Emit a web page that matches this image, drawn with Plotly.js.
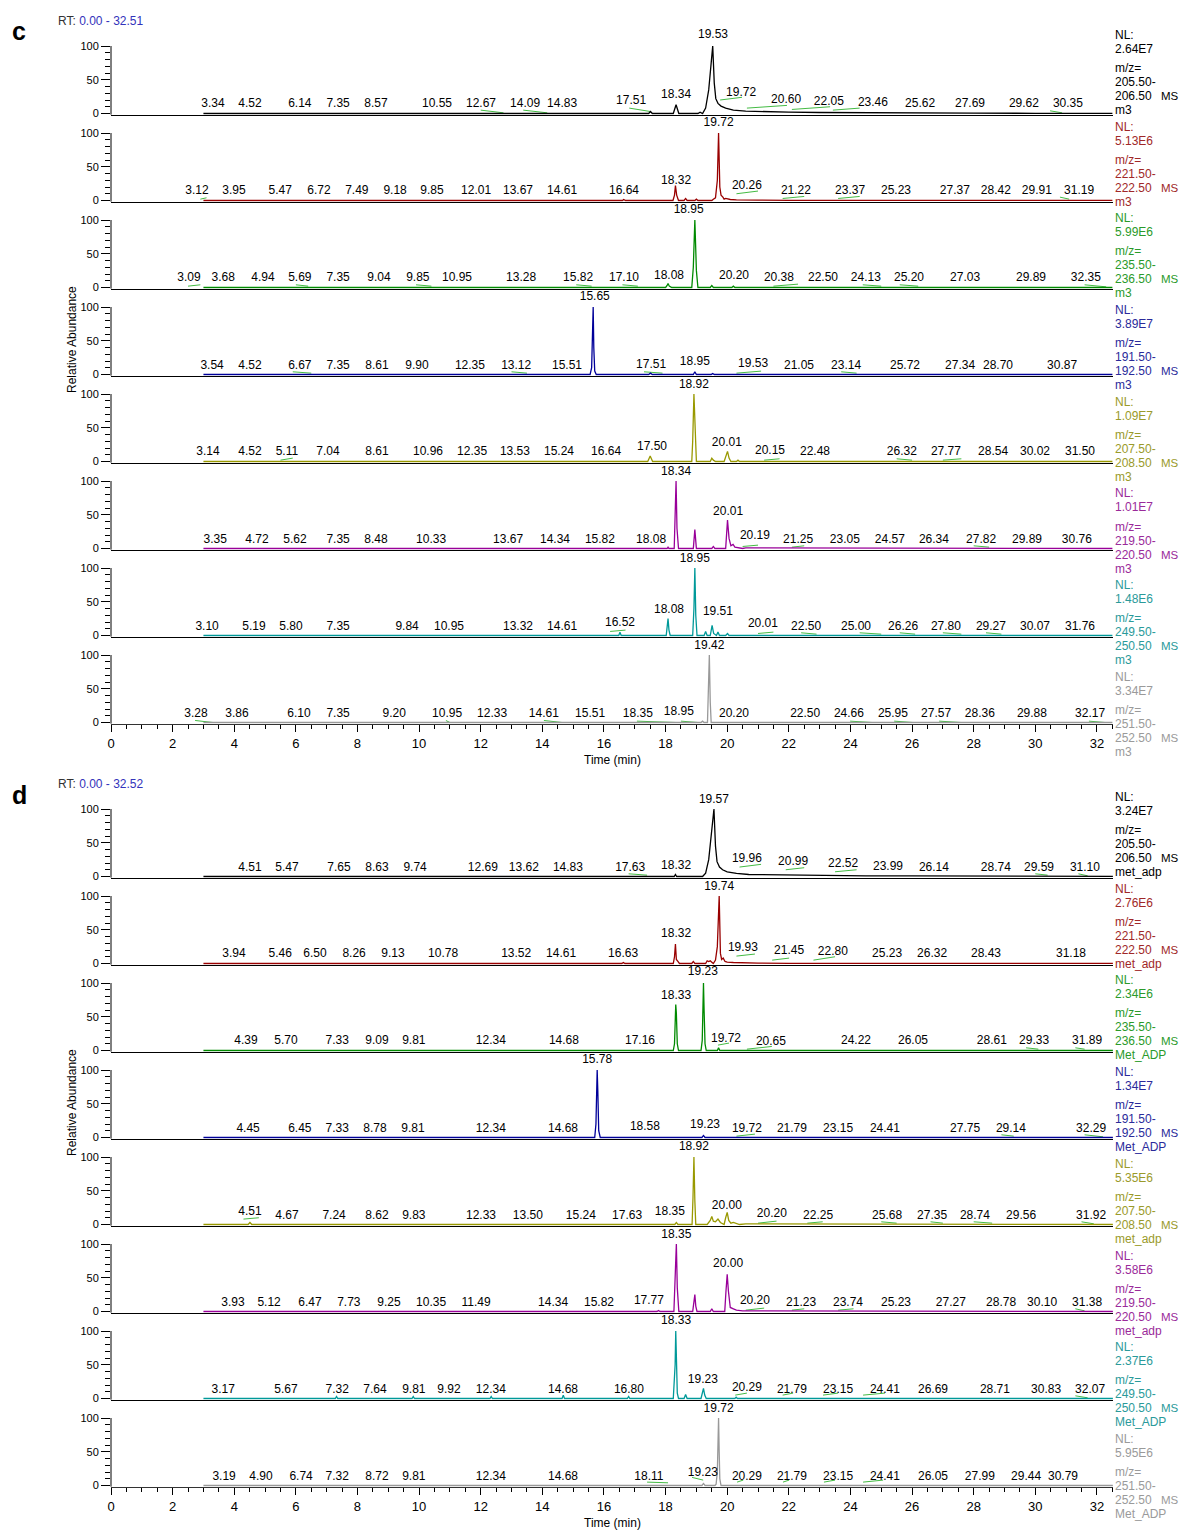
<!DOCTYPE html>
<html><head><meta charset="utf-8">
<script src="https://cdn.plot.ly/plotly-3.0.1.min.js"></script>
<style>body{margin:0;background:#fff}#chart{width:1179px;height:1530px}</style>
</head><body><div id="chart"></div>
<script>
// ---------- metadata ----------
const rtRangeC = [0.00, 32.51];
const rtRangeD = [0.00, 32.52];
const nlC = ['2.64E7','5.13E6','5.99E6','3.89E7','1.09E7','1.01E7','1.48E6','3.34E7'];
const nlD = ['3.24E7','2.76E6','2.34E6','1.34E7','5.35E6','3.58E6','2.37E6','5.95E6'];
const mzLo = ['205.50-','221.50-','235.50-','191.50-','207.50-','219.50-','249.50-','251.50-'];
const mzHi = ['206.50','222.50','236.50','192.50','208.50','220.50','250.50','252.50'];
const fileC = ['m3','m3','m3','m3','m3','m3','m3','m3'];
const fileD = ['met_adp','met_adp','Met_ADP','Met_ADP','met_adp','met_adp','Met_ADP','Met_ADP'];

// ---------- panel c traces ----------
const c1X = [3.0,17.45,17.51,17.57,18.25,18.34,18.43,19.05,19.12,19.2,19.3,19.4,19.48,19.53,19.58,19.63,19.7,19.8,19.95,20.2,20.6,21.2,22,23,24.5,26,28,30,32.51];
const c1Y = [0,0,3,0,0,13,0,0,2,0,8,35,75,100,45,22,15,11,8,5,3.5,2.5,2,1.5,1,0.8,0.5,0.3,0.2];
const c1LT = ['3.34','4.52','6.14','7.35','8.57','10.55','12.67','14.09','14.83','17.51','18.34','19.53','19.72','20.60','22.05','23.46','25.62','27.69','29.62','30.35'];
const c1LX = [3.31,4.51,6.13,7.37,8.60,10.58,12.01,13.44,14.64,16.88,18.34,19.54,20.45,21.91,23.30,24.73,26.26,27.88,29.63,31.06];
const c1LY = [14,14,14,14,14,14,14,14,14,18,27,116,30,20,17,15,14,14,14,14];
const c1Green = [[12.0,5,12.74,1],[13.38,5,14.16,1],[16.82,8,17.5,3],[19.77,20,20.48,24],[20.64,8,21.94,12],[22.1,6,23.34,10],[23.43,5,24.3,8],[30.48,4,30.87,1]];

const c2X = [3.0,16.6,16.64,16.7,18.24,18.29,18.32,18.36,18.42,18.6,18.65,18.7,18.95,19.0,19.05,19.5,19.55,19.62,19.68,19.72,19.76,19.8,19.86,19.9,19.95,20.1,20.3,20.6,21,22,25,32.51];
const c2Y = [0,0,1.5,0,0,8,22,8,0,0,3,0,0,2,0,0,2,4,30,100,20,8,5,2,3,1.5,1,0.5,0.5,0.3,0.2,0.2];
const c2LT = ['3.12','3.95','5.47','6.72','7.49','9.18','9.85','12.01','13.67','14.61','16.64','18.32','19.72','20.26','21.22','23.37','25.23','27.37','28.42','29.91','31.19'];
const c2LX = [2.79,3.99,5.49,6.75,7.98,9.22,10.42,11.85,13.21,14.64,16.65,18.34,19.72,20.64,22.23,23.99,25.48,27.39,28.72,30.05,31.42];
const c2LY = [14,14,14,14,14,14,14,14,14,14,14,29,115,21,14,14,14,14,14,14,14];
const c2Green = [[2.9,2,3.1,4],[20.3,10,21.0,14],[21.8,3,22.5,6],[23.6,3,24.3,6],[30.8,5,31.1,2]];

const c3X = [3.0,18.0,18.05,18.08,18.12,18.2,18.85,18.9,18.95,19.0,19.05,19.45,19.5,19.55,20.15,20.2,20.25,32.51];
const c3Y = [0,0,3,6,2,0,0,30,100,25,0,0,3,0,0,2,0,0];
const c3LT = ['3.09','3.68','4.94','5.69','7.35','9.04','9.85','10.95','13.28','15.82','17.10','18.08','18.95','20.20','20.38','22.50','24.13','25.20','27.03','29.89','32.35'];
const c3LX = [2.53,3.64,4.93,6.13,7.37,8.70,9.96,11.23,13.31,15.16,16.65,18.11,18.75,20.22,21.68,23.11,24.50,25.90,27.72,29.86,31.64];
const c3LY = [14,14,14,14,14,14,14,14,14,14,14,17,115,17,14,14,14,14,14,14,14];
const c3Green = [[2.5,2,2.9,4],[6.0,4,6.4,2],[9.9,4,10.4,2],[15.1,4,15.6,2],[16.6,4,17.1,2],[21.5,2,22.3,5],[24.4,4,25.0,2],[25.6,4,26.2,2],[31.6,4,32.3,1]];

const c4X = [3.0,15.55,15.6,15.62,15.64,15.65,15.67,15.7,15.75,17.45,17.51,17.57,18.9,18.95,19.0,19.48,19.53,19.58,32.51];
const c4Y = [0,0,10,50,55,100,40,5,0,0,2,0,0,4,0,0,1.5,0,0];
const c4LT = ['3.54','4.52','6.67','7.35','8.61','9.90','12.35','13.12','15.51','15.65','17.51','18.95','19.53','21.05','23.14','25.72','27.34','28.70','30.87'];
const c4LX = [3.28,4.51,6.13,7.37,8.63,9.93,11.65,13.15,14.80,15.70,17.53,18.95,20.84,22.33,23.86,25.77,27.56,28.79,30.87];
const c4LY = [13,13,13,13,13,13,13,13,13,115,14,18,15,13,13,13,13,13,13];
const c4Green = [[5.9,4,6.5,2],[13.0,4,13.5,2],[17.3,4,17.9,2],[20.3,2,21.1,5],[23.7,4,24.2,2]];

const c5X = [3.0,17.42,17.5,17.58,18.85,18.88,18.92,18.96,19.0,19.45,19.5,19.55,19.62,19.9,19.97,20.01,20.06,20.12,20.3,20.35,20.4,32.51];
const c5Y = [0,0,8,0,0,30,100,30,0,0,5,2,0,0,8,15,5,0,0,2,0,0];
const c5LT = ['3.14','4.52','5.11','7.04','8.61','10.96','12.35','13.53','15.24','16.64','17.50','18.92','20.01','20.15','22.48','26.32','27.77','28.54','30.02','31.50'];
const c5LX = [3.15,4.51,5.71,7.04,8.63,10.29,11.72,13.11,14.54,16.07,17.56,18.92,19.99,21.39,22.85,25.67,27.10,28.63,29.99,31.45];
const c5LY = [14,14,14,14,14,14,14,14,14,14,21,114,27,15,14,14,14,14,14,14];
const c5Green = [[5.5,2,5.9,5],[21.2,2,21.7,4],[25.5,4,26.0,2],[27.0,2,27.6,4]];

const c6X = [3.0,18.05,18.08,18.11,18.28,18.31,18.34,18.37,18.42,18.9,18.95,19.0,19.5,19.55,19.6,19.95,20.01,20.06,20.12,20.19,20.25,20.5,20.6,32.51];
const c6Y = [0,0,2,0,0,40,100,30,0,0,28,0,0,3,0,0,42,15,4,6,2,0,1,0];
const c6LT = ['3.35','4.72','5.62','7.35','8.48','10.33','13.67','14.34','15.82','18.08','18.34','20.01','20.19','21.25','23.05','24.57','26.34','27.82','29.89','30.76'];
const c6LX = [3.38,4.74,5.97,7.37,8.60,10.39,12.89,14.41,15.87,17.53,18.34,20.03,20.90,22.30,23.82,25.28,26.71,28.24,29.73,31.35];
const c6LY = [13,13,13,13,13,13,13,13,13,13,114,54,18,13,13,13,13,13,13,13];
const c6Green = [[20.5,3,21.0,5],[22.1,2,22.5,4],[28.0,4,28.5,2]];

const c7X = [3.0,16.48,16.52,16.56,18.02,18.05,18.08,18.11,18.15,18.88,18.92,18.95,18.98,19.02,19.25,19.3,19.35,19.45,19.51,19.56,19.65,19.7,19.75,19.95,20.01,20.06,32.51];
const c7Y = [0,0,5,0,0,12,25,8,0,0,40,100,30,0,0,6,0,0,15,3,0,5,0,0,3,0,0];
const c7LT = ['3.10','5.19','5.80','7.35','9.84','10.95','13.32','14.61','16.52','18.08','18.95','19.51','20.01','22.50','25.00','26.26','27.80','29.27','30.07','31.76'];
const c7LX = [3.12,4.64,5.84,7.37,9.61,10.97,13.21,14.64,16.52,18.11,18.95,19.70,21.16,22.56,24.18,25.71,27.10,28.56,29.99,31.45];
const c7LY = [13,13,13,13,13,13,13,13,19,38,114,35,17,13,13,13,13,13,13,13];
const c7Green = [[16.2,6,16.7,8],[21.0,3,21.5,5],[22.4,4,22.9,2],[24.3,4,25.0,2],[25.6,4,26.1,2],[27.0,4,27.6,2],[28.4,4,28.9,2]];

const c8X = [3.0,19.15,19.2,19.25,19.36,19.39,19.42,19.45,19.48,32.51];
const c8Y = [0,0,2,0,0,40,100,30,0,0];
const c8LT = ['3.28','3.86','6.10','7.35','9.20','10.95','12.33','14.61','15.51','18.35','18.95','19.42','20.20','22.50','24.66','25.95','27.57','28.36','29.88','32.17'];
const c8LX = [2.76,4.09,6.10,7.37,9.19,10.91,12.37,14.05,15.55,17.10,18.43,19.42,20.22,22.53,23.95,25.38,26.78,28.20,29.89,31.78];
const c8LY = [13,13,13,13,13,13,13,13,13,13,16,114,13,13,13,13,13,13,13,13];
const c8Green = [[2.73,3,3.31,0],[10.87,3,11.0,0],[14.05,3,14.64,0],[17.07,2,18.34,0],[18.5,2,19.05,0],[23.99,2,24.7,0],[25.42,2,26.03,0],[26.88,2,27.59,0],[31.74,2,32.26,0]];

// ---------- panel d traces ----------
const d1X = [3.0,18.28,18.32,18.36,19.2,19.3,19.4,19.48,19.53,19.57,19.62,19.67,19.75,19.85,20.0,20.3,20.7,21.3,22,23,24.5,26,28,30,32.52];
const d1Y = [0,0,3,0,0,5,25,65,90,100,45,22,14,10,7,4.5,3,2.5,2,1.5,1,0.8,0.5,0.3,0.2];
const d1LT = ['4.51','5.47','7.65','8.63','9.74','12.69','13.62','14.83','17.63','18.32','19.57','19.96','20.99','22.52','23.99','26.14','28.74','29.59','31.10'];
const d1LX = [4.51,5.71,7.40,8.63,9.87,12.07,13.40,14.83,16.85,18.34,19.57,20.64,22.14,23.76,25.22,26.71,28.72,30.12,31.61];
const d1LY = [13,13,13,13,13,13,13,13,13,16,113,26,21,18,14,13,13,13,13];
const d1Green = [[16.8,4,17.4,2],[20.4,14,21.1,18],[21.9,10,22.5,13],[23.5,7,24.2,10],[30.0,4,30.4,2],[31.4,4,31.7,1]];

const d2X = [3.0,16.58,16.63,16.68,18.25,18.29,18.32,18.35,18.4,18.45,18.5,18.85,18.9,18.95,19.3,19.35,19.4,19.45,19.5,19.55,19.62,19.68,19.74,19.78,19.82,19.87,19.93,20.0,20.2,20.5,21,22,32.52];
const d2Y = [0,0,1.5,0,0,10,29,6,3,0,0,0,3,0,0,4,3,4,2,0,5,25,100,15,6,8,3,2,1.5,1,0.5,0.3,0.2];
const d2LT = ['3.94','5.46','6.50','8.26','9.13','10.78','13.52','14.61','16.63','18.32','19.74','19.93','21.45','22.80','25.23','26.32','28.43','31.18'];
const d2LX = [3.99,5.49,6.62,7.89,9.15,10.78,13.15,14.61,16.62,18.34,19.74,20.51,22.01,23.43,25.19,26.65,28.40,31.16];
const d2LY = [14,14,14,14,14,14,14,14,14,43,114,23,19,17,14,14,14,14];
const d2Green = [[20.3,11,20.9,14],[21.46,5,22.01,8],[22.8,5,23.5,10]];

const d3X = [3.0,18.25,18.29,18.31,18.33,18.35,18.38,18.42,19.15,19.19,19.21,19.23,19.25,19.28,19.32,19.68,19.72,19.76,32.52];
const d3Y = [0,0,10,60,68,55,10,0,0,15,70,100,60,10,0,0,4,0,0];
const d3LT = ['4.39','5.70','7.33','9.09','9.81','12.34','14.68','17.16','18.33','19.23','19.72','20.65','24.22','26.05','28.61','29.33','31.89'];
const d3LX = [4.38,5.68,7.34,8.63,9.83,12.33,14.70,17.17,18.34,19.21,19.96,21.42,24.18,26.03,28.59,29.96,31.68];
const d3LY = [14,14,14,14,14,14,14,14,81,116,17,13,14,14,14,14,14];
const d3Green = [[19.7,8,20.06,11],[20.64,2,21.45,6],[29.7,4,30.1,2],[31.3,4,31.6,2]];

const d4X = [3.0,15.7,15.74,15.76,15.78,15.8,15.83,15.88,19.18,19.23,19.28,32.52];
const d4Y = [0,0,20,85,100,70,10,0,0,3,0,0];
const d4LT = ['4.45','6.45','7.33','8.78','9.81','12.34','14.68','15.78','18.58','19.23','19.72','21.79','23.15','24.41','27.75','29.14','32.29'];
const d4LX = [4.45,6.13,7.34,8.57,9.80,12.33,14.67,15.78,17.33,19.28,20.64,22.10,23.60,25.12,27.72,29.21,31.81];
const d4LY = [13,13,13,13,13,13,13,115,15,18,13,13,13,13,13,13,13];
const d4Green = [[20.3,2,20.9,5],[28.9,4,29.3,2],[31.6,4,32.2,1]];

const d5X = [3.0,4.45,4.51,4.57,18.3,18.35,18.4,18.86,18.89,18.92,18.95,18.98,19.35,19.45,19.5,19.55,19.62,19.7,19.78,19.9,19.95,20.0,20.05,20.12,20.2,20.3,20.4,20.6,32.52];
const d5Y = [0,0,3,0,0,3,0,0,40,100,35,0,0,6,12,5,4,8,3,0,10,18,6,2,3,2,0,1,0];
const d5LT = ['4.51','4.67','7.24','8.62','9.83','12.33','13.50','15.24','17.63','18.35','18.92','20.00','20.20','22.25','25.68','27.35','28.74','29.56','31.92'];
const d5LX = [4.51,5.71,7.24,8.63,9.83,12.01,13.53,15.25,16.75,18.14,18.92,19.99,21.45,22.95,25.19,26.65,28.04,29.54,31.81];
const d5LY = [18,13,13,13,13,13,13,13,13,18,115,28,16,13,13,13,13,13,13];
const d5Green = [[4.3,8,4.8,10],[21.0,2,21.6,5],[22.6,2,23.1,4],[25.0,4,25.5,2],[26.6,4,27.0,2],[28.0,4,28.6,2],[31.5,4,31.9,1]];

const d6X = [3.0,17.72,17.77,17.82,18.27,18.31,18.35,18.38,18.43,18.88,18.92,18.95,18.98,19.02,19.45,19.5,19.55,19.92,19.96,20.0,20.04,20.1,20.2,20.3,20.5,32.52];
const d6Y = [0,0,1.5,0,0,50,100,35,0,0,15,25,8,0,0,4,0,0,30,55,30,6,4,2,1,0];
const d6LT = ['3.93','5.12','6.47','7.73','9.25','10.35','11.49','14.34','15.82','17.77','18.35','20.00','20.20','21.23','23.74','25.23','27.27','28.78','30.10','31.38'];
const d6LX = [3.96,5.13,6.46,7.72,9.02,10.39,11.85,14.35,15.84,17.46,18.35,20.03,20.90,22.40,23.92,25.48,27.26,28.89,30.22,31.68];
const d6LY = [12,12,12,12,12,12,12,12,12,15,113,70,16,12,12,12,12,12,12,12];
const d6Green = [[20.6,2,21.2,5],[22.1,2,22.5,4],[23.6,2,24.1,4],[31.3,4,31.6,1]];

const d7X = [3.0,7.28,7.32,7.36,9.77,9.81,9.85,12.3,12.34,12.38,14.64,14.68,14.72,16.76,16.8,16.84,18.25,18.29,18.31,18.33,18.35,18.38,18.42,18.6,18.65,18.7,19.15,19.19,19.23,19.27,19.32,20.25,20.29,20.33,32.52];
const d7Y = [0,0,3,0,0,3,0,0,3,0,0,5,0,0,3,0,0,30,50,100,45,8,0,0,6,0,0,8,15,5,0,0,2,0,0];
const d7LT = ['3.17','5.67','7.32','7.64','9.81','9.92','12.34','14.68','16.80','18.33','19.23','20.29','21.79','23.15','24.41','26.69','28.71','30.83','32.07'];
const d7LX = [3.64,5.68,7.34,8.57,9.83,10.97,12.33,14.67,16.81,18.34,19.21,20.64,22.10,23.60,25.12,26.68,28.69,30.35,31.78];
const d7LY = [13,13,13,13,13,13,13,13,13,115,28,16,13,13,13,13,13,13,13];
const d7Green = [[20.26,5,20.64,8],[21.8,5,22.14,8],[23.11,5,23.6,8],[24.41,5,25.12,8],[31.3,4,31.7,1]];

const d8X = [3.0,19.18,19.23,19.28,19.6,19.64,19.68,19.7,19.72,19.74,19.76,19.8,32.52];
const d8Y = [0,0,3,0,0,2,20,60,100,50,10,0,0];
const d8LT = ['3.19','4.90','6.74','7.32','8.72','9.81','12.34','14.68','18.11','19.23','19.72','20.29','21.79','23.15','24.41','26.05','27.99','29.44','30.79'];
const d8LX = [3.67,4.87,6.17,7.34,8.63,9.83,12.33,14.67,17.46,19.21,19.72,20.64,22.10,23.60,25.12,26.68,28.20,29.70,30.90];
const d8LY = [13,13,13,13,13,13,13,13,13,18,113,13,13,13,13,13,13,13,13];
const d8Green = [[17.4,5,18.08,4],[18.86,12,19.22,8],[20.32,5,20.52,8],[21.81,5,22.01,8],[23.14,5,23.5,8],[24.41,5,25.06,8]];

// ---------- assembly ----------
const panels = [
  {name:'c', range:rtRangeC, nl:nlC, file:fileC, series:[
    [c1X,c1Y,c1LX,c1LY,c1LT,c1Green],[c2X,c2Y,c2LX,c2LY,c2LT,c2Green],[c3X,c3Y,c3LX,c3LY,c3LT,c3Green],[c4X,c4Y,c4LX,c4LY,c4LT,c4Green],
    [c5X,c5Y,c5LX,c5LY,c5LT,c5Green],[c6X,c6Y,c6LX,c6LY,c6LT,c6Green],[c7X,c7Y,c7LX,c7LY,c7LT,c7Green],[c8X,c8Y,c8LX,c8LY,c8LT,c8Green]]},
  {name:'d', range:rtRangeD, nl:nlD, file:fileD, series:[
    [d1X,d1Y,d1LX,d1LY,d1LT,d1Green],[d2X,d2Y,d2LX,d2LY,d2LT,d2Green],[d3X,d3Y,d3LX,d3LY,d3LT,d3Green],[d4X,d4Y,d4LX,d4LY,d4LT,d4Green],
    [d5X,d5Y,d5LX,d5LY,d5LT,d5Green],[d6X,d6Y,d6LX,d6LY,d6LT,d6Green],[d7X,d7Y,d7LX,d7LY,d7LT,d7Green],[d8X,d8Y,d8LX,d8LY,d8LT,d8Green]]}
];

const lineColors = ['#000000','#990000','#008a00','#000099','#999900','#990099','#009999','#999999'];
const textColors = ['#000000','#a02828','#2a9a2a','#2a2a9a','#9a9a2a','#9a2a9a','#2a9a9a','#9a9a9a'];
const greenColor = '#44bb44';

const W = 1179, Hh = 1530;
const FONT = 'Liberation Sans, Arial, sans-serif';
const TOPS = [46, 809];
const INFO0 = [35, 797];
const INFOSTEP = 91.7;
const INFOOFF = [0, 14, 33, 47, 61, 75];
const STEP = 87, SPAN = 67.5, YMIN = -2, YMAX = 122;
const X0PX = 111, PXPERMIN = 30.81;

const data = [];
const layout = {
  width: W, height: Hh, margin:{l:0,r:0,t:0,b:0,pad:0},
  paper_bgcolor:'#ffffff', plot_bgcolor:'rgba(0,0,0,0)',
  showlegend:false, font:{family:FONT, size:12, color:'#000'},
  annotations:[], shapes:[]
};
const py = px => 1 - px/Hh;
const pxX = px => px/W;

panels.forEach((pn, p) => {
  const xr = pn.range;
  const xdom = [X0PX/W, (X0PX + xr[1]*PXPERMIN)/W];
  pn.series.forEach((s, i) => {
    const k = p*8 + i + 1;
    const sfx = (k===1?'':k);
    const xa = 'x' + sfx, ya = 'y' + sfx;
    const top = TOPS[p] + STEP*i;
    const unit = SPAN/100;
    const base = top + SPAN;
    const domBottom = base - YMIN*unit;
    const domTop = base - YMAX*unit;
    const isBottom = (i === 7);
    // green integration marks
    const gx = [], gy = [];
    s[5].forEach(g => { gx.push(g[0], g[2], null); gy.push(g[1], g[3], null); });
    data.push({x:gx, y:gy, type:'scatter', mode:'lines', xaxis:xa, yaxis:ya,
      line:{color:greenColor, width:1}, hoverinfo:'skip', connectgaps:false});
    data.push({x:s[0], y:s[1], type:'scatter', mode:'lines', xaxis:xa, yaxis:ya,
      line:{color:lineColors[i], width:1.3}, hoverinfo:'skip'});
    data.push({x:s[2], y:s[3], text:s[4], type:'scatter', mode:'text', xaxis:xa, yaxis:ya,
      textposition:'middle center', textfont:{size:12, color:'#000', family:FONT},
      cliponaxis:false, hoverinfo:'skip'});
    layout['xaxis'+sfx] = {
      domain:xdom, range:[xr[0], xr[1]], anchor:ya, showgrid:false, zeroline:false,
      showline:true, linecolor: isBottom ? '#333' : '#000', linewidth: isBottom ? 1.5 : 1,
      ticks: isBottom ? 'outside' : '', showticklabels:isBottom,
      tick0:0, dtick:2, ticklen:7, tickwidth:1, tickcolor:'#000',
      tickfont:{size:13, family:FONT, color:'#000'},
      minor: isBottom ? {dtick:0.5, ticks:'outside', ticklen:4, tickcolor:'#000', tickwidth:1, showgrid:false} : undefined,
      fixedrange:true
    };
    layout['yaxis'+sfx] = {
      domain:[py(domBottom), py(domTop)], range:[YMIN, YMAX], anchor:xa, showgrid:false, zeroline:false,
      showline:false,
      ticks:'outside', ticklen:9, tickwidth:1, tickcolor:'#000',
      tickvals:[0,50,100], ticktext:['0','50','100'],
      tickfont:{size:11, family:FONT, color:'#000'},
      minor:{tickvals:[10,20,30,40,60,70,80,90], ticks:'outside', ticklen:5, tickcolor:'#000', tickwidth:1, showgrid:false},
      fixedrange:true
    };
    // vertical axis line from 0 to 100 only
    layout.shapes.push({type:'line', xref:xa+' domain', yref:ya, x0:0, x1:0, y0:YMIN, y1:100,
      line:{color:'#000', width:1}, layer:'above'});
    // right-hand info block
    const tc = textColors[i];
    const nl0 = INFO0[p] + INFOSTEP*i;
    const lines = [['NL:'],[pn.nl[i]],['m/z='],[mzLo[i]],[mzHi[i]],[pn.file[i]]];
    lines.forEach((t, j) => {
      layout.annotations.push({xref:'paper', yref:'paper', x:pxX(1113), y:py(nl0+INFOOFF[j]),
        xanchor:'left', yanchor:'middle', text:t[0], showarrow:false,
        font:{size:12, color:tc, family:FONT}});
    });
    layout.annotations.push({xref:'paper', yref:'paper', x:pxX(1159), y:py(nl0+INFOOFF[4]),
      xanchor:'left', yanchor:'middle', text:'MS', showarrow:false,
      font:{size:11.5, color:tc, family:FONT}});
  });
  // panel letter
  layout.annotations.push({xref:'paper', yref:'paper', x:pxX(10), y:py(p ? 795 : 31),
    xanchor:'left', yanchor:'middle', text:'<b>'+pn.name+'</b>', showarrow:false,
    font:{size:25, color:'#000', family:FONT}});
  // RT range
  layout.annotations.push({xref:'paper', yref:'paper', x:pxX(56), y:py(p ? 784 : 21),
    xanchor:'left', yanchor:'middle',
    text:'RT: <span style="color:#3333bb">'+xr[0].toFixed(2)+' - '+xr[1].toFixed(2)+'</span>',
    showarrow:false, font:{size:12, color:'#333', family:FONT}});
  // y title
  layout.annotations.push({xref:'paper', yref:'paper', x:pxX(72), y:py(p ? 1103 : 340),
    xanchor:'center', yanchor:'middle', text:'Relative Abundance', textangle:-90, showarrow:false,
    font:{size:12, color:'#000', family:FONT}});
  // x title
  layout.annotations.push({xref:'paper', yref:'paper', x:pxX(612), y:py(p ? 1523 : 760),
    xanchor:'center', yanchor:'middle', text:'Time (min)', showarrow:false,
    font:{size:12, color:'#000', family:FONT}});
});

Plotly.newPlot('chart', data, layout, {displayModeBar:false, staticPlot:true});
</script></body></html>
